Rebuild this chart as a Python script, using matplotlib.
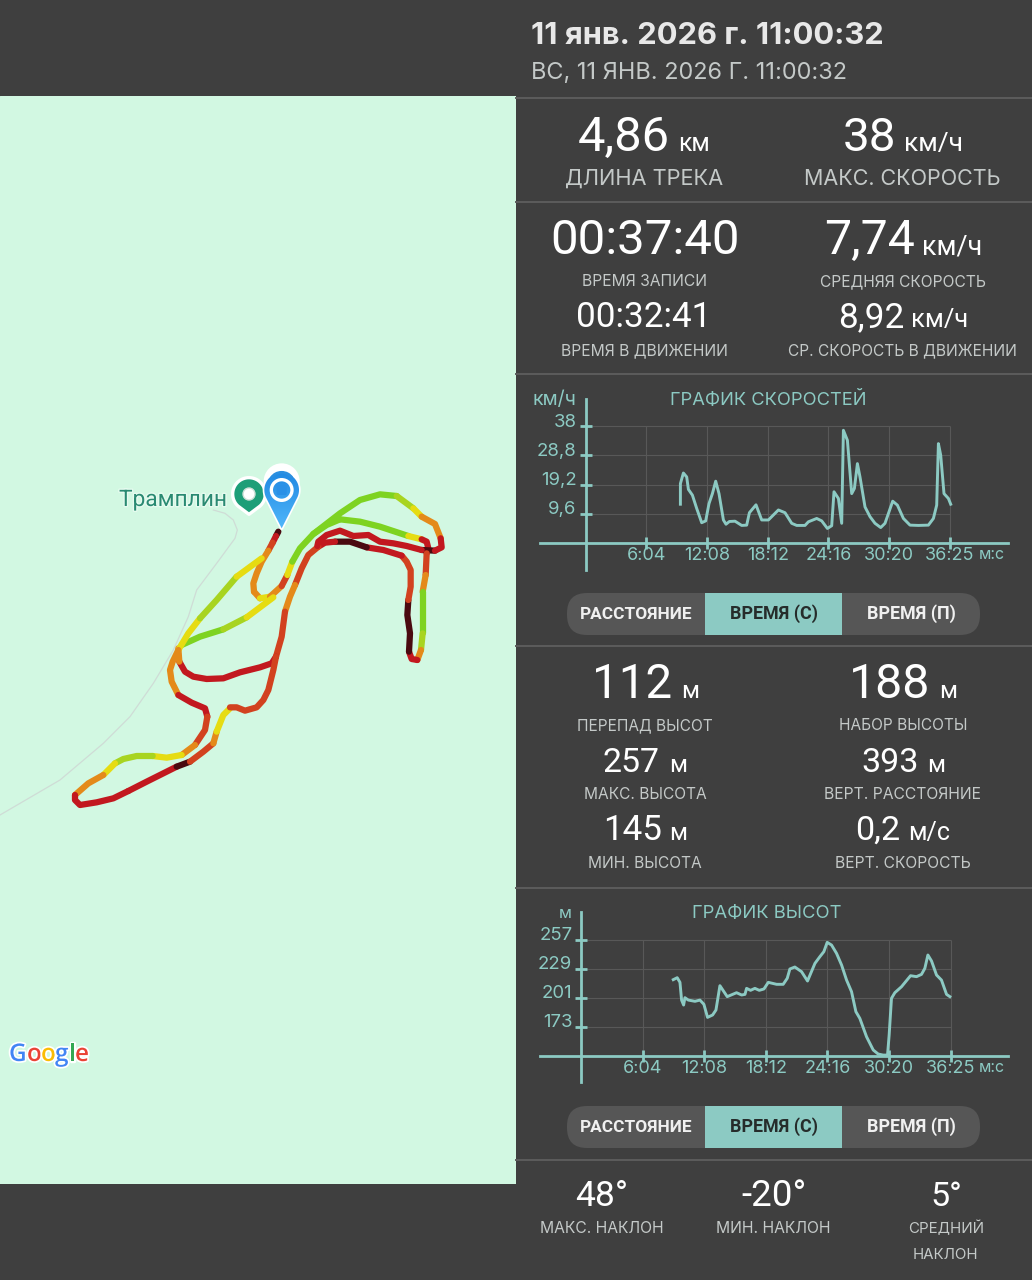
import numpy as np
import matplotlib
matplotlib.use('Agg')
import matplotlib.pyplot as plt
import matplotlib.patheffects as pe
from matplotlib.colors import LinearSegmentedColormap
from matplotlib.patches import Circle, Polygon, FancyBboxPatch, Rectangle, Arc
from matplotlib.transforms import ScaledTranslation

W, H = 1032, 1280
BG = '#3f3f3f'
TEAL = '#8ccac3'
LABEL = '#c4c9c8'
SEP = '#5c5c5c'

# speed chart, minutes / km/h
speed_t = [9.47, 9.47, 9.77, 10.1, 10.27, 10.67, 11.1, 11.6, 12.0, 12.33, 12.67, 13.0, 13.33, 13.77, 14.03,
           14.37, 14.93, 15.6, 16.1, 16.37, 17.03, 17.6, 18.27, 19.27, 19.93, 20.6, 21.1, 21.93, 22.27, 23.1,
           23.6, 24.17, 24.6, 24.83, 25.27, 25.6, 25.77, 26.17, 26.6, 26.87, 27.17, 27.43, 27.93, 28.43, 28.93,
           29.5, 29.93, 30.7, 31.17, 31.77, 32.43, 33.27, 34.27, 34.77, 35.1, 35.27, 35.5, 35.83, 36.27, 36.5]
speed_v = [12.7, 19.5, 23.0, 21.7, 17.6, 15.7, 11.3, 6.6, 7.2, 12.9, 16.2, 20.3, 16.2, 7.5, 6.1,
           7.0, 7.1, 5.7, 5.8, 9.9, 12.5, 7.5, 7.5, 10.8, 9.9, 6.4, 5.7, 5.7, 6.9, 8.0,
           7.2, 4.7, 5.6, 16.8, 14.6, 6.4, 37.1, 33.8, 16.2, 17.9, 26.1, 21.7, 11.8, 8.6, 6.4,
           5.0, 6.4, 13.7, 12.4, 8.0, 5.8, 5.7, 5.8, 8.0, 12.4, 32.7, 28.9, 16.2, 14.6, 12.7]
speed_ticks = [9.6, 19.2, 28.8, 38.4]
speed_tick_labels = ['9,6', '19,2', '28,8', '38']

# altitude chart, minutes / m
alt_t = [9.07, 9.46, 9.73, 9.89, 10.09, 10.22, 10.55, 11.21, 11.70, 12.09, 12.45, 12.95, 13.28, 13.67, 14.39,
         15.31, 15.81, 16.14, 16.30, 16.69, 17.12, 17.55, 18.01, 18.44, 19.26, 19.91, 20.31, 20.57, 21.06, 21.72,
         22.31, 23.04, 23.53, 23.92, 24.25, 24.68, 25.17, 25.67, 26.16, 26.65, 27.08, 27.47, 28.13, 28.79, 29.28,
         29.77, 30.20, 30.36, 30.59, 30.92, 31.58, 32.47, 33.06, 33.55, 33.88, 34.18, 34.54, 35.03, 35.52, 36.02, 36.35]
alt_v = [218.4, 220.3, 215.8, 198.7, 193.9, 201, 198.7, 197.5, 198.7, 194.6, 182, 184.3, 189.1, 212.6, 202,
         205.8, 203.6, 204.2, 210, 208.1, 210, 208.1, 209.4, 215.8, 213.9, 213.9, 219.7, 228.7, 230.6, 226.1,
         217.1, 234.1, 240.6, 245.4, 254.4, 251.8, 243.8, 232.5, 218, 206.8, 187.5, 181, 163.3, 150.5, 146.6,
         145.6, 145.6, 165, 200.4, 205.8, 211.6, 222.2, 221.3, 223.5, 229.3, 242.2, 236.4, 222.9, 218, 204.2, 202]
alt_ticks = [173, 201, 229, 257]
alt_tick_labels = ['173', '201', '229', '257']

time_ticks = [6.07, 12.13, 18.2, 24.27, 30.33, 36.42]
time_tick_labels = ['6:04', '12:08', '18:12', '24:16', '30:20', '36:25']

# map track, one entry per stretch: speed class and points in map units
track_levels = [0, 1, 2, 3, 3, 4, 3, 2, 4, 6, 6, 4, 1, 0, 2, 3, 6, 5, 3, 1, 0, 2, 1, 0, 1, 2, 3, 2, 1, 3,
                6, 5, 4, 4, 5, 4, 6, 5, 4, 3, 1, 1, 3, 1, 2, 3, 4, 5, 4, 3, 1, 1, 0, 2, 3, 4, 2]
track_x = [[655, 648], [648, 638], [638, 625], [625, 605, 590, 580, 582], [582, 600], [600, 630], [630, 665],
           [665, 682], [682, 697], [697, 720, 760, 800, 840], [840, 900, 960, 1045], [1045, 1085],
           [1085, 1100, 1105, 1100], [1085, 1125], [1100, 1097], [1097, 1088], [1088, 1088], [1088, 1083],
           [1083, 1072], [1072, 1055, 1047], [1047, 1050, 1042, 1045], [1045, 1052, 1052, 1040, 1025],
           [1025, 970, 920], [920, 870, 825], [825, 795, 775], [775, 745, 725, 705], [705, 690, 675],
           [675, 665, 648], [648, 635, 600, 540, 490, 440, 400, 375, 358], [358, 355],
           [365, 420, 490], [490, 560], [560, 640], [355, 385, 420], [420, 470, 530], [530, 605],
           [760, 840, 900, 960, 1010], [1010, 1060], [1060, 1085], [1085, 1125, 1142], [1142, 1145, 1125],
           [1085, 1040, 1000, 960, 925, 880, 840, 800, 775, 772],
           [355, 338, 330, 335, 355], [355, 395, 435, 442], [442, 435, 405], [405, 365], [365, 320, 278],
           [278, 230, 190, 165], [165, 130], [130, 85, 45], [45, 45, 60, 110, 160, 205], [205, 260, 350],
           [350, 390], [390, 430, 460], [460, 470], [470, 490, 510],
           [510, 530, 555, 590, 610, 625, 640, 648]]
track_y = [[215, 228], [228, 248], [248, 272], [272, 305, 340, 370, 395], [395, 415], [415, 410], [410, 378],
           [378, 345], [345, 305], [305, 265, 222, 195, 178], [178, 185, 200, 228], [228, 238],
           [238, 245, 265, 280], [270, 272], [280, 345], [345, 395], [395, 520], [520, 570],
           [570, 600], [600, 597, 575], [575, 520, 465, 420], [420, 380, 330, 305, 287],
           [287, 270, 262], [262, 245, 245], [245, 248, 260], [260, 285, 325, 375], [375, 410, 455],
           [455, 530, 590], [590, 610, 622, 637, 655, 657, 650, 635, 605], [605, 565],
           [555, 530, 508], [508, 472], [472, 412], [570, 520, 475], [475, 420, 350], [350, 295],
           [222, 160, 120, 103, 108], [108, 145], [145, 170], [170, 192, 235], [235, 262, 272],
           [270, 258, 250, 245, 225, 228, 212, 225, 245, 258],
           [570, 605, 630, 665, 705], [705, 728, 745, 770], [770, 810, 855], [855, 885], [885, 893, 888],
           [888, 888, 897, 910], [910, 945], [945, 970, 1005], [1005, 1020, 1035, 1027, 1015, 993], [993, 965, 920],
           [920, 905], [905, 875, 850], [850, 815], [815, 765, 745],
           [742, 742, 752, 742, 720, 690, 630, 590]]
level_colors = ['#4a0a10', '#c2181f', '#d2421f', '#e48a1a', '#e6dc12', '#a8d420', '#7ed321']

road_x = [-180, 0, 130, 210, 280, 340, 385, 410, 470, 525, 532, 520, 495, 460]
road_y = [1065, 960, 850, 770, 670, 570, 470, 390, 310, 235, 210, 180, 160, 150]

google_letters = ['G', 'o', 'o', 'g', 'l', 'e']
google_colors = ['#4285f4', '#ea4335', '#fbbc05', '#4285f4', '#34a853', '#ea4335']

fig = plt.figure(figsize=(W / 100, H / 100), dpi=100, facecolor=BG)
renderer = fig.canvas.get_renderer()


def box(x0, y0, x1, y1):
    return [x0 / W, 1 - y1 / H, (x1 - x0) / W, (y1 - y0) / H]


def fit(x0, x1, y, s, font='Roboto', color='white', weight='normal'):
    # y is the baseline, the size comes from the width
    t = fig.text(x0 / W, 1 - y / H, s, family=font, color=color, weight=weight, fontsize=20, ha='left', va='baseline')
    t.set_fontsize(20 * (x1 - x0) / t.get_window_extent(renderer).width)
    return t


def small(x0, x1, y, s):
    fit(x0, x1, y, s, font='Inter', color=LABEL)


# map
mp = fig.add_axes(box(0, 96, 516, 1184))
mp.set_xlim(-180, 1368)
mp.set_ylim(2172, -1092)
mp.axis('off')
mp.add_patch(Rectangle((-180, -1092), 1548, 3264, color='#d2f8e2', zorder=0))
mp.plot(road_x, road_y, color='#cfdcd6', lw=0.9, zorder=1)
for lev, xs, ys in zip(track_levels, track_x, track_y):
    mp.plot(xs, ys, color=level_colors[lev], lw=4.5, solid_capstyle='round', solid_joinstyle='round', zorder=2)


def pin(cx, cy, r, tip, a0, color):
    a = np.radians(np.linspace(a0, 180 - a0, 80))
    pts = np.column_stack([cx + r * np.cos(a), cy - r * np.sin(a)])
    pts = np.vstack([pts, [cx, tip]])
    p = Polygon(pts, closed=True, fc=color, ec='white', lw=2.4, joinstyle='round', zorder=4)
    mp.add_patch(p)
    return p


pin(567, 102, 49, 163, -48, '#1d9e78')
mp.add_patch(Circle((567, 102), 18, fc='white', ec='#cfe0d8', lw=1, zorder=5))

mp.add_patch(Circle((665, 64), 54, fc='white', ec='none', zorder=4))
mp.add_patch(Arc((665, 68), 70, 62, theta1=205, theta2=335, color='#2a8fe0', lw=2, zorder=5))
blue = pin(665, 90, 52, 205, -28, '#38a0ee')
blue_cmap = LinearSegmentedColormap.from_list('pin', ['#1f88e2', '#52b8fb'])
grad = mp.imshow(np.linspace(0, 1, 64).reshape(-1, 1), cmap=blue_cmap, extent=(610, 720, 210, 35), aspect='auto', zorder=4.5)
grad.set_clip_path(blue)
mp.add_patch(Circle((665, 90), 31, fc='none', ec='white', lw=2.4, zorder=5))
mp.add_patch(FancyBboxPatch((650, 75), 30, 30, boxstyle='round,pad=0,rounding_size=4', fc='#2a90e6', ec='none', zorder=6))

t = fit(119, 227, 506, 'Трамплин', color='#2a8a72')
t.set_path_effects([pe.withStroke(linewidth=2, foreground='#e6fbef')])

for c, col, x in zip(google_letters, google_colors, [9, 27, 41, 55, 69, 75]):
    t = fig.text(x / W, 1 - 1061 / H, c, family='Open Sans', color=col, weight='semibold', fontsize=17.5)
    t.set_path_effects([pe.withStroke(linewidth=2.5, foreground='white')])

# header
fit(531, 885, 44, '11 янв. 2026 г. 11:00:32', font='Inter', color='#e8e8e8', weight='bold')
fit(531, 847, 79, 'ВС, 11 ЯНВ. 2026 Г. 11:00:32', font='Inter', color=LABEL)

for y in [98, 202, 374, 646, 888, 1160]:
    fig.add_artist(plt.Line2D([516 / W, 1], [1 - y / H, 1 - y / H], color=SEP, lw=1.4))

# value blocks
fit(578, 670, 151, '4,86')
fit(678, 710, 151, 'км')
fit(843, 896, 151, '38')
fit(904, 963, 151, 'км/ч')
small(565, 724, 185, 'ДЛИНА ТРЕКА')
small(804, 1001, 185, 'МАКС. СКОРОСТЬ')
fit(550, 739, 254, '00:37:40')
fit(824, 915, 254, '7,74')
fit(922, 982, 254, 'км/ч')
small(582, 708, 286, 'ВРЕМЯ ЗАПИСИ')
small(820, 987, 286, 'СРЕДНЯЯ СКОРОСТЬ')
fit(576, 711, 327, '00:32:41')
fit(838, 904, 327, '8,92')
fit(911, 968, 327, 'км/ч')
small(561, 729, 355, 'ВРЕМЯ В ДВИЖЕНИИ')
small(788, 1018, 355, 'СР. СКОРОСТЬ В ДВИЖЕНИИ')
fit(592, 672, 698, '112')
fit(681, 699, 698, 'м')
fit(849, 930, 698, '188')
fit(939, 957, 698, 'м')
small(577, 713, 730, 'ПЕРЕПАД ВЫСОТ')
small(839, 968, 730, 'НАБОР ВЫСОТЫ')
fit(603, 660, 772, '257')
fit(669, 687, 772, 'м')
fit(861, 918, 772, '393')
fit(927, 945, 772, 'м')
small(584, 707, 799, 'МАКС. ВЫСОТА')
small(824, 982, 799, 'ВЕРТ. РАССТОЯНИЕ')
fit(603, 662, 840, '145')
fit(669, 687, 840, 'м')
fit(855, 900, 840, '0,2')
fit(908, 950, 840, 'м/с')
small(588, 702, 868, 'МИН. ВЫСОТА')
small(835, 971, 868, 'ВЕРТ. СКОРОСТЬ')
fit(575, 628, 1206, '48°')
fit(741, 806, 1206, '-20°')
fit(930, 962, 1206, '5°')
small(540, 664, 1233, 'МАКС. НАКЛОН')
small(716, 831, 1233, 'МИН. НАКЛОН')
small(908, 984, 1233, 'СРЕДНИЙ')
small(913, 979, 1259, 'НАКЛОН')


def chart(rect, t, v, xorigin, yorigin, px_per_min, px_per_unit, base, yticks, ylabels, ytop, xend):
    x0, y0, x1, y1 = rect
    ax = fig.add_axes(box(*rect), facecolor='none')
    ax.set_xlim((x0 - xorigin) / px_per_min, (x1 - xorigin) / px_per_min)
    ax.set_ylim(base - (y1 - yorigin) / px_per_unit, base + (yorigin - y0) / px_per_unit)
    for s in ['top', 'right']:
        ax.spines[s].set_visible(False)
    ax.spines['left'].set_position(('data', 0))
    ax.spines['bottom'].set_position(('data', base))
    for s in ['left', 'bottom']:
        ax.spines[s].set_color(TEAL)
        ax.spines[s].set_linewidth(2)
    ax.hlines(yticks, 0, xend, color='#585858', lw=0.8, zorder=1)
    ax.vlines(time_ticks, base, ytop, color='#585858', lw=0.8, zorder=1)
    ax.plot(t, v, color=TEAL, lw=2.1, zorder=3, solid_joinstyle='round')
    ax.set_xticks(time_ticks)
    ax.set_xticklabels(time_tick_labels, family='Inter', fontsize=13, color=TEAL)
    ax.set_yticks(yticks)
    ax.set_yticklabels(ylabels, family='Inter', fontsize=13.4, color=TEAL)
    ax.tick_params(axis='x', direction='inout', length=8, width=2, color=TEAL, pad=-1)
    ax.tick_params(axis='y', direction='inout', length=8, width=2, color=TEAL, pad=2.5)
    shift = ScaledTranslation(0, 6 / 100, fig.dpi_scale_trans)
    for lab in ax.get_yticklabels():
        lab.set_transform(lab.get_transform() + shift)
    return ax


chart((540, 399, 1008, 570), speed_t, speed_v, 585.7, 542.7, 10.0, 3.03, 0, speed_ticks, speed_tick_labels, 38.4, 36.42)
chart((540, 912, 1008, 1082), alt_t, alt_v, 581.3, 1055.7, 10.14, 1.036, 145, alt_ticks, alt_tick_labels, 257, 36.42)

fit(670, 867, 405, 'ГРАФИК СКОРОСТЕЙ', font='Inter', color=TEAL)
fit(532, 576, 405, 'км/ч', font='Inter', color=TEAL)
fit(979, 1005, 559, 'м:с', font='Inter', color=TEAL)
fit(692, 842, 918, 'ГРАФИК ВЫСОТ', font='Inter', color=TEAL)
fit(559, 572, 918, 'м', font='Inter', color=TEAL)
fit(979, 1005, 1072, 'м:с', font='Inter', color=TEAL)

# toggles
ui = fig.add_axes([0, 0, 1, 1], facecolor='none')
ui.set_xlim(0, W)
ui.set_ylim(H, 0)
ui.axis('off')
for top in [593, 1106]:
    ui.add_patch(FancyBboxPatch((567, top), 413, 42, boxstyle='round,pad=0,rounding_size=20', fc='#565656', ec='none'))
    ui.add_patch(Rectangle((705, top), 137, 42, fc=TEAL, ec='none'))
    fit(580, 692, top + 26, 'РАССТОЯНИЕ', weight='bold', color='#f0f0f0')
    fit(730, 818, top + 26, 'ВРЕМЯ (С)', weight='bold', color='#262c2b')
    fit(867, 956, top + 26, 'ВРЕМЯ (П)', weight='bold', color='#f0f0f0')

fig.savefig('out.png', dpi=100, facecolor=BG)
